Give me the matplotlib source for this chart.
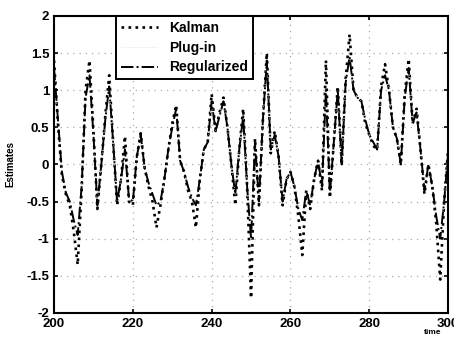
import numpy as np
import matplotlib.pyplot as plt

# =========================
# DATA
# =========================
time = list(range(200, 301))

regularized = [
    1.30, 0.60, -0.10, -0.38, -0.50, -0.75, -0.95, -0.30, 0.90, 1.20,
    0.40, -0.55, 0.00, 0.60, 1.05, 0.30, -0.50, -0.20, 0.20, -0.45,
    -0.50, 0.10, 0.40, -0.05, -0.25, -0.40, -0.55, -0.50, -0.20, 0.20,
    0.50, 0.75, 0.05, -0.10, -0.30, -0.45, -0.55, -0.20, 0.20, 0.30,
    0.85, 0.45, 0.65, 0.85, 0.50, 0.00, -0.40, 0.20, 0.65, -0.30,
    -1.00, 0.30, -0.50, 0.60, 1.40, 0.20, 0.40, 0.10, -0.50, -0.20,
    -0.10, -0.30, -0.60, -0.75, -0.35, -0.55, -0.20, 0.05, -0.30, 1.00,
    -0.40, 0.30, 1.00, 0.00, 1.10, 1.45, 1.00, 0.90, 0.85, 0.60,
    0.40, 0.30, 0.20, 1.00, 1.20, 1.00, 0.50, 0.35, 0.00, 0.90,
    1.30, 0.55, 0.70, 0.20, -0.35, 0.00, -0.30, -0.70, -1.00, -0.50,
    0.15,
]

kalman = [
    1.40, 0.55, -0.15, -0.40, -0.55, -0.90, -1.35, -0.35, 1.00, 1.40,
    0.45, -0.60, 0.00, 0.65, 1.20, 0.30, -0.55, -0.20, 0.38, -0.50,
    -0.55, 0.10, 0.42, -0.05, -0.30, -0.50, -0.85, -0.55, -0.20, 0.20,
    0.55, 0.80, 0.05, -0.10, -0.35, -0.50, -0.85, -0.20, 0.20, 0.30,
    0.95, 0.45, 0.70, 0.90, 0.50, 0.00, -0.55, 0.20, 0.75, -0.30,
    -1.80, 0.35, -0.55, 0.60, 1.50, 0.15, 0.45, 0.10, -0.55, -0.20,
    -0.10, -0.30, -0.70, -1.22, -0.35, -0.60, -0.20, 0.05, -0.35, 1.40,
    -0.45, 0.30, 1.05, 0.00, 1.15, 1.75, 1.00, 0.90, 0.85, 0.55,
    0.40, 0.25, 0.20, 1.05, 1.35, 1.00, 0.50, 0.35, 0.00, 0.95,
    1.42, 0.55, 0.75, 0.20, -0.40, 0.00, -0.30, -0.80, -1.55, -0.50,
    0.20,
]

plug_in = regularized

x_ticks = [200, 220, 240, 260, 280, 300]
y_ticks = [-2, -1.5, -1, -0.5, 0, 0.5, 1, 1.5, 2]
y_labels = ["-2", "-1.5", "-1", "-0.5", "0", "0.5", "1", "1.5", "2"]

# =========================
# PLOT
# =========================
plt.rcParams['font.family'] = ['Liberation Sans', 'DejaVu Sans']

fig = plt.figure(figsize=(4.54, 3.38), dpi=100)
ax = fig.add_axes([0.119, 0.074, 0.868, 0.879])

ax.plot(time, kalman, color="black", linestyle=":", linewidth=1.9, label="Kalman")
ax.plot(time, plug_in, color="#dddddd", linestyle=":", linewidth=0.6, label="Plug-in")
ax.plot(time, regularized, color="black", linestyle="-.", linewidth=1.4, label="Regularized")

ax.set_xlim(200, 300)
ax.set_ylim(-2, 2)
ax.set_xticks(x_ticks)
ax.set_yticks(y_ticks)
ax.set_yticklabels(y_labels)
ax.tick_params(direction="in", top=True, right=True, length=3, labelsize=9.5, width=1.2)
for lab in ax.get_xticklabels() + ax.get_yticklabels():
    lab.set_fontweight("bold")
for sp in ax.spines.values():
    sp.set_linewidth(1.5)

ax.grid(True, linestyle=(0, (1, 4)), color="#aaaaaa", linewidth=0.9)

ax.set_ylabel("Estimates", fontsize=7, fontweight="bold", labelpad=8)
ax.set_xlabel("time", fontsize=6, fontweight="bold")
ax.xaxis.set_label_coords(0.96, -0.055)

leg = ax.legend(loc="upper left", bbox_to_anchor=(0.157, 1.0),
                frameon=True, fancybox=False, handlelength=2.7, borderaxespad=0,
                labelspacing=0.42, borderpad=0.35,
                prop={"weight": "bold", "size": 10})
leg.get_frame().set_edgecolor("black")
leg.get_frame().set_linewidth(1.4)
leg.get_frame().set_alpha(1)

fig.savefig("out.png", dpi=100)
